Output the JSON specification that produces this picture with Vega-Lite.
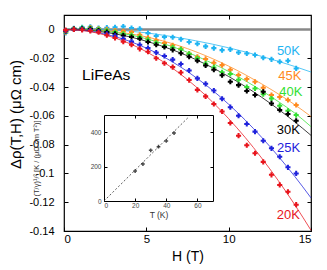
{
"$schema":"https://vega.github.io/schema/vega-lite/v6.json",
"width":247,"height":216,
"autosize":{"type":"none"},
"padding":{"left":64,"top":15,"right":16,"bottom":39},
"config":{"font":"Liberation Sans","locale":{"number":{"decimal":".","thousands":",","grouping":[3],"currency":["$",""],"minus":"-"}},"view":{"stroke":"#000","strokeWidth":1.2},"axis":{"grid":false,"labelColor":"#000","titleColor":"#000","titleFontWeight":"normal","tickColor":"#000","domainColor":"#000","labelOverlap":false},"scale":{"nice":false,"zero":false}},
"datasets":{
"pts":[
{"s":"50K","H":0.1,"v":-0.0025},{"s":"50K","H":0.6,"v":0.0008},{"s":"50K","H":1.1,"v":0.0015},{"s":"50K","H":1.6,"v":0.0018},{"s":"50K","H":2.1,"v":0.001},{"s":"50K","H":2.6,"v":0.0012},{"s":"50K","H":3.1,"v":0.0015},{"s":"50K","H":3.6,"v":0.002},{"s":"50K","H":4.1,"v":0.001},{"s":"50K","H":4.6,"v":0.0004},{"s":"50K","H":5.1,"v":-0.0026},{"s":"50K","H":5.6,"v":-0.0046},{"s":"50K","H":6.1,"v":-0.0053},{"s":"50K","H":6.6,"v":-0.0055},{"s":"50K","H":7.1,"v":-0.0068},{"s":"50K","H":7.6,"v":-0.0088},{"s":"50K","H":8.1,"v":-0.01},{"s":"50K","H":8.6,"v":-0.0118},{"s":"50K","H":9.1,"v":-0.013},{"s":"50K","H":9.6,"v":-0.0144},{"s":"50K","H":10.1,"v":-0.0139},{"s":"50K","H":10.6,"v":-0.016},{"s":"50K","H":11.1,"v":-0.0167},{"s":"50K","H":11.6,"v":-0.0178},{"s":"50K","H":12.1,"v":-0.0197},{"s":"50K","H":12.6,"v":-0.0208},{"s":"50K","H":13.1,"v":-0.0225},{"s":"50K","H":13.6,"v":-0.0218},{"s":"50K","H":14.1,"v":-0.0271},
{"s":"45K","H":0.1,"v":-0.002},{"s":"45K","H":0.6,"v":0.0005},{"s":"45K","H":1.1,"v":0.0008},{"s":"45K","H":1.6,"v":0.0012},{"s":"45K","H":2.1,"v":0.0005},{"s":"45K","H":2.6,"v":0.0},{"s":"45K","H":3.1,"v":-0.0008},{"s":"45K","H":3.6,"v":-0.0012},{"s":"45K","H":4.1,"v":-0.0018},{"s":"45K","H":4.6,"v":-0.0037},{"s":"45K","H":5.1,"v":-0.0058},{"s":"45K","H":5.6,"v":-0.0075},{"s":"45K","H":6.1,"v":-0.0095},{"s":"45K","H":6.6,"v":-0.011},{"s":"45K","H":7.1,"v":-0.0135},{"s":"45K","H":7.6,"v":-0.017},{"s":"45K","H":8.1,"v":-0.019},{"s":"45K","H":8.6,"v":-0.0205},{"s":"45K","H":9.1,"v":-0.0232},{"s":"45K","H":9.6,"v":-0.0248},{"s":"45K","H":10.1,"v":-0.028},{"s":"45K","H":10.6,"v":-0.0317},{"s":"45K","H":11.1,"v":-0.0345},{"s":"45K","H":11.6,"v":-0.0364},{"s":"45K","H":12.1,"v":-0.0405},{"s":"45K","H":12.6,"v":-0.0456},{"s":"45K","H":13.1,"v":-0.047},{"s":"45K","H":13.6,"v":-0.049},{"s":"45K","H":14.1,"v":-0.0525},
{"s":"40K","H":0.1,"v":-0.0015},{"s":"40K","H":0.6,"v":0.0005},{"s":"40K","H":1.1,"v":0.001},{"s":"40K","H":1.6,"v":0.0008},{"s":"40K","H":2.1,"v":0.0},{"s":"40K","H":2.6,"v":-0.0008},{"s":"40K","H":3.1,"v":-0.0018},{"s":"40K","H":3.6,"v":-0.003},{"s":"40K","H":4.1,"v":-0.004},{"s":"40K","H":4.6,"v":-0.0053},{"s":"40K","H":5.1,"v":-0.0072},{"s":"40K","H":5.6,"v":-0.0093},{"s":"40K","H":6.1,"v":-0.0118},{"s":"40K","H":6.6,"v":-0.0125},{"s":"40K","H":7.1,"v":-0.0139},{"s":"40K","H":7.6,"v":-0.017},{"s":"40K","H":8.1,"v":-0.02},{"s":"40K","H":8.6,"v":-0.0238},{"s":"40K","H":9.1,"v":-0.0264},{"s":"40K","H":9.6,"v":-0.0298},{"s":"40K","H":10.1,"v":-0.031},{"s":"40K","H":10.6,"v":-0.035},{"s":"40K","H":11.1,"v":-0.04},{"s":"40K","H":11.6,"v":-0.041},{"s":"40K","H":12.1,"v":-0.045},{"s":"40K","H":12.6,"v":-0.048},{"s":"40K","H":13.1,"v":-0.053},{"s":"40K","H":13.6,"v":-0.0565},{"s":"40K","H":14.1,"v":-0.0595},
{"s":"30K","H":0.1,"v":-0.001},{"s":"30K","H":0.6,"v":0.0003},{"s":"30K","H":1.1,"v":0.0005},{"s":"30K","H":1.6,"v":0.0003},{"s":"30K","H":2.1,"v":-0.0008},{"s":"30K","H":2.6,"v":-0.0018},{"s":"30K","H":3.1,"v":-0.003},{"s":"30K","H":3.6,"v":-0.0042},{"s":"30K","H":4.1,"v":-0.0053},{"s":"30K","H":4.6,"v":-0.0065},{"s":"30K","H":5.1,"v":-0.0088},{"s":"30K","H":5.6,"v":-0.0107},{"s":"30K","H":6.1,"v":-0.0122},{"s":"30K","H":6.6,"v":-0.0142},{"s":"30K","H":7.1,"v":-0.0165},{"s":"30K","H":7.6,"v":-0.019},{"s":"30K","H":8.1,"v":-0.0218},{"s":"30K","H":8.6,"v":-0.025},{"s":"30K","H":9.1,"v":-0.028},{"s":"30K","H":9.6,"v":-0.0318},{"s":"30K","H":10.1,"v":-0.0364},{"s":"30K","H":10.6,"v":-0.0387},{"s":"30K","H":11.1,"v":-0.0428},{"s":"30K","H":11.6,"v":-0.0456},{"s":"30K","H":12.1,"v":-0.0433},{"s":"30K","H":12.6,"v":-0.0514},{"s":"30K","H":13.1,"v":-0.056},{"s":"30K","H":13.6,"v":-0.0588},{"s":"30K","H":14.1,"v":-0.0634},
{"s":"25K","H":0.1,"v":-0.001},{"s":"25K","H":0.6,"v":0.0},{"s":"25K","H":1.1,"v":0.0},{"s":"25K","H":1.6,"v":-0.0005},{"s":"25K","H":2.1,"v":-0.0015},{"s":"25K","H":2.6,"v":-0.003},{"s":"25K","H":3.1,"v":-0.0045},{"s":"25K","H":3.6,"v":-0.0065},{"s":"25K","H":4.1,"v":-0.0085},{"s":"25K","H":4.6,"v":-0.0107},{"s":"25K","H":5.1,"v":-0.013},{"s":"25K","H":5.6,"v":-0.016},{"s":"25K","H":6.1,"v":-0.0185},{"s":"25K","H":6.6,"v":-0.021},{"s":"25K","H":7.1,"v":-0.024},{"s":"25K","H":7.6,"v":-0.0285},{"s":"25K","H":8.1,"v":-0.034},{"s":"25K","H":8.6,"v":-0.0378},{"s":"25K","H":9.1,"v":-0.0425},{"s":"25K","H":9.6,"v":-0.0482},{"s":"25K","H":10.1,"v":-0.054},{"s":"25K","H":10.6,"v":-0.06},{"s":"25K","H":11.1,"v":-0.0657},{"s":"25K","H":11.6,"v":-0.071},{"s":"25K","H":12.1,"v":-0.0773},{"s":"25K","H":12.6,"v":-0.0826},{"s":"25K","H":13.1,"v":-0.0884},{"s":"25K","H":13.6,"v":-0.0958},{"s":"25K","H":14.1,"v":-0.1},
{"s":"20K","H":0.1,"v":-0.0005},{"s":"20K","H":0.6,"v":0.0},{"s":"20K","H":1.1,"v":-0.0003},{"s":"20K","H":1.6,"v":-0.001},{"s":"20K","H":2.1,"v":-0.002},{"s":"20K","H":2.6,"v":-0.004},{"s":"20K","H":3.1,"v":-0.006},{"s":"20K","H":3.6,"v":-0.0085},{"s":"20K","H":4.1,"v":-0.0107},{"s":"20K","H":4.6,"v":-0.0135},{"s":"20K","H":5.1,"v":-0.0155},{"s":"20K","H":5.6,"v":-0.02},{"s":"20K","H":6.1,"v":-0.0235},{"s":"20K","H":6.6,"v":-0.0262},{"s":"20K","H":7.1,"v":-0.03},{"s":"20K","H":7.6,"v":-0.0352},{"s":"20K","H":8.1,"v":-0.042},{"s":"20K","H":8.6,"v":-0.0465},{"s":"20K","H":9.1,"v":-0.0518},{"s":"20K","H":9.6,"v":-0.057},{"s":"20K","H":10.1,"v":-0.065},{"s":"20K","H":10.6,"v":-0.0738},{"s":"20K","H":11.1,"v":-0.0805},{"s":"20K","H":11.6,"v":-0.086},{"s":"20K","H":12.1,"v":-0.092},{"s":"20K","H":12.6,"v":-0.101},{"s":"20K","H":13.1,"v":-0.108},{"s":"20K","H":13.6,"v":-0.1127},{"s":"20K","H":14.1,"v":-0.1217}
],
"fit":[
{"s":"50K","H":0,"v":0},{"s":"50K","H":1,"v":0.0003},{"s":"50K","H":2,"v":0.0003},{"s":"50K","H":3,"v":-0.0003},{"s":"50K","H":4,"v":-0.0012},{"s":"50K","H":5,"v":-0.0024},{"s":"50K","H":6,"v":-0.004},{"s":"50K","H":7,"v":-0.0058},{"s":"50K","H":8,"v":-0.0079},{"s":"50K","H":9,"v":-0.0102},{"s":"50K","H":10,"v":-0.0128},{"s":"50K","H":11,"v":-0.0156},{"s":"50K","H":12,"v":-0.0187},{"s":"50K","H":13,"v":-0.0221},{"s":"50K","H":14,"v":-0.0257},{"s":"50K","H":15,"v":-0.0296},
{"s":"45K","H":0,"v":0},{"s":"45K","H":1,"v":0},{"s":"45K","H":2,"v":-0.0005},{"s":"45K","H":3,"v":-0.0015},{"s":"45K","H":4,"v":-0.003},{"s":"45K","H":5,"v":-0.0052},{"s":"45K","H":6,"v":-0.008},{"s":"45K","H":7,"v":-0.0114},{"s":"45K","H":8,"v":-0.0155},{"s":"45K","H":9,"v":-0.0202},{"s":"45K","H":10,"v":-0.0255},{"s":"45K","H":11,"v":-0.0314},{"s":"45K","H":12,"v":-0.0378},{"s":"45K","H":13,"v":-0.0447},{"s":"45K","H":14,"v":-0.0522},{"s":"45K","H":15,"v":-0.0605},
{"s":"40K","H":0,"v":0},{"s":"40K","H":1,"v":0},{"s":"40K","H":2,"v":-0.0008},{"s":"40K","H":3,"v":-0.002},{"s":"40K","H":4,"v":-0.0038},{"s":"40K","H":5,"v":-0.0065},{"s":"40K","H":6,"v":-0.0098},{"s":"40K","H":7,"v":-0.0137},{"s":"40K","H":8,"v":-0.0183},{"s":"40K","H":9,"v":-0.0235},{"s":"40K","H":10,"v":-0.0292},{"s":"40K","H":11,"v":-0.0356},{"s":"40K","H":12,"v":-0.0425},{"s":"40K","H":13,"v":-0.05},{"s":"40K","H":14,"v":-0.058},{"s":"40K","H":15,"v":-0.0675},
{"s":"30K","H":0,"v":0},{"s":"30K","H":1,"v":-0.0003},{"s":"30K","H":2,"v":-0.0013},{"s":"30K","H":3,"v":-0.0029},{"s":"30K","H":4,"v":-0.0052},{"s":"30K","H":5,"v":-0.0082},{"s":"30K","H":6,"v":-0.0118},{"s":"30K","H":7,"v":-0.016},{"s":"30K","H":8,"v":-0.0209},{"s":"30K","H":9,"v":-0.0265},{"s":"30K","H":10,"v":-0.0327},{"s":"30K","H":11,"v":-0.0396},{"s":"30K","H":12,"v":-0.0471},{"s":"30K","H":13,"v":-0.0553},{"s":"30K","H":14,"v":-0.0641},{"s":"30K","H":15,"v":-0.0736},
{"s":"25K","H":0,"v":0},{"s":"25K","H":1,"v":-0.0005},{"s":"25K","H":2,"v":-0.0021},{"s":"25K","H":3,"v":-0.0047},{"s":"25K","H":4,"v":-0.0083},{"s":"25K","H":5,"v":-0.013},{"s":"25K","H":6,"v":-0.0187},{"s":"25K","H":7,"v":-0.0255},{"s":"25K","H":8,"v":-0.0333},{"s":"25K","H":9,"v":-0.0421},{"s":"25K","H":10,"v":-0.052},{"s":"25K","H":11,"v":-0.0629},{"s":"25K","H":12,"v":-0.0749},{"s":"25K","H":13,"v":-0.0879},{"s":"25K","H":14,"v":-0.1019},{"s":"25K","H":15,"v":-0.117},
{"s":"20K","H":0,"v":0},{"s":"20K","H":1,"v":-0.0006},{"s":"20K","H":2,"v":-0.0025},{"s":"20K","H":3,"v":-0.0056},{"s":"20K","H":4,"v":-0.0099},{"s":"20K","H":5,"v":-0.0155},{"s":"20K","H":6,"v":-0.0223},{"s":"20K","H":7,"v":-0.0304},{"s":"20K","H":8,"v":-0.0397},{"s":"20K","H":9,"v":-0.0502},{"s":"20K","H":10,"v":-0.062},{"s":"20K","H":11,"v":-0.075},{"s":"20K","H":12,"v":-0.0893},{"s":"20K","H":13,"v":-0.1048},{"s":"20K","H":14,"v":-0.1215},{"s":"20K","H":15,"v":-0.1395}
],
"lbl":[
{"s":"50K","H":13.63,"v":-0.0152,"t":"50K"},{"s":"45K","H":13.72,"v":-0.0323,"t":"45K"},{"s":"40K","H":13.78,"v":-0.0433,"t":"40K"},{"s":"30K","H":13.62,"v":-0.0699,"t":"30K"},{"s":"25K","H":13.64,"v":-0.0824,"t":"25K"},{"s":"20K","H":13.62,"v":-0.1289,"t":"20K"}
],
"ann":[{"H":1.1,"v":-0.0317,"t":"LiFeAs"}],
"zero":[{"v":0}],
"ins":[{"T":20,"v":174},{"T":25,"v":215},{"T":30,"v":295},{"T":35,"v":316},{"T":40,"v":349},{"T":45,"v":395}],
"insfit":[{"T":0,"v":0},{"T":54,"v":485}]
},
"layer":[
{
"layer":[
{"data":{"name":"zero"},"mark":{"type":"rule","color":"#888888","strokeWidth":2.5},
"encoding":{"y":{"field":"v","type":"quantitative","scale":{"domain":[-0.14,0.01],"nice":false,"zero":false},"axis":null}}},
{"data":{"name":"fit"},"mark":{"type":"line","strokeWidth":1,"opacity":0.75,"interpolate":"monotone"},
"encoding":{
"x":{"field":"H","type":"quantitative","scale":{"domain":[0,15],"nice":false,"zero":false},"axis":null},
"y":{"field":"v","type":"quantitative","axis":null},
"color":{"field":"s","type":"nominal","scale":{"domain":["50K","45K","40K","30K","25K","20K"],"range":["#1eb4f2","#ff8a1e","#33e033","#000000","#1f22dc","#e8141c"]},"legend":null},
"detail":{"field":"s"}}},
{"data":{"name":"pts"},"mark":{"type":"point","shape":"cross","filled":true,"size":26,"opacity":1},
"encoding":{"x":{"field":"H","type":"quantitative","axis":null},"y":{"field":"v","type":"quantitative","axis":null},"color":{"field":"s","type":"nominal","legend":null}}},
{"data":{"name":"lbl"},"mark":{"type":"text","fontSize":13,"align":"center","baseline":"middle"},
"encoding":{"x":{"field":"H","type":"quantitative","axis":null},"y":{"field":"v","type":"quantitative","axis":null},"text":{"field":"t"},"color":{"field":"s","type":"nominal","legend":null}}},
{"data":{"name":"ann"},"mark":{"type":"text","fontSize":15.5,"align":"left","baseline":"middle","color":"#000"},
"encoding":{"x":{"field":"H","type":"quantitative","axis":null},"y":{"field":"v","type":"quantitative","axis":null},"text":{"field":"t"}}}
]
},
{"data":{"name":"lbl"},"mark":{"type":"point","opacity":0},
"encoding":{
"x":{"field":"H","type":"quantitative","scale":{"domain":[0,15],"nice":false,"zero":false},"title":"H (T)","axis":{"orient":"bottom","values":[0,5,10,15],"format":"d","labelOverlap":false,"tickSize":-4,"labelPadding":6,"labelFontSize":11.5,"domain":false,"titleFontSize":14,"titleY":18}},
"y":{"field":"v","type":"quantitative","scale":{"domain":[-0.14,0.01],"nice":false,"zero":false},"title":"Δρ(T,H) (μΩ cm)","axis":{"orient":"left","values":[0,-0.02,-0.04,-0.06,-0.08,-0.1,-0.12,-0.14],"format":".2~f","labelOverlap":false,"labelSeparation":0,"tickSize":-4,"labelPadding":14,"labelFontSize":11,"domain":false,"titleFontSize":15,"titleX":-41,"titleY":99}}}},
{"data":{"name":"lbl"},"mark":{"type":"point","opacity":0},
"encoding":{
"x":{"field":"H","type":"quantitative","scale":{"domain":[0,15],"nice":false,"zero":false},"axis":{"orient":"top","values":[5,10],"labels":false,"tickSize":-4,"domain":false,"title":null}},
"y":{"field":"v","type":"quantitative","scale":{"domain":[-0.14,0.01],"nice":false,"zero":false},"axis":{"orient":"right","values":[-0.02,-0.04,-0.06,-0.08,-0.1,-0.12],"labels":false,"tickSize":-4,"domain":false,"title":null}}}},
{
"layer":[
{"data":{"name":"insfit"},"mark":{"type":"line","strokeDash":[2,2],"color":"#333333","strokeWidth":0.8},
"encoding":{
"x":{"field":"T","type":"quantitative","scale":{"domain":[0,70],"range":[40,149],"nice":false},"title":"T (K)","axis":{"orient":"bottom","offset":-30,"values":[0,20,40,60],"labelOverlap":false,"tickSize":-3,"labelPadding":4,"labelFontSize":6.5,"labelColor":"#444","domain":true,"domainWidth":1,"titleFontSize":8.5,"titleColor":"#333","titleY":9}},
"y":{"field":"v","type":"quantitative","scale":{"domain":[0,500],"range":[186,100],"nice":false},"title":"(T/γ)¹/² [K / (μΩ cm T²)]","axis":{"orient":"left","offset":-40,"values":[0,200,400],"labelOverlap":false,"tickSize":-3,"labelPadding":6,"labelFontSize":6.5,"labelColor":"#444","domain":true,"domainWidth":1,"titleFontSize":7.5,"titleColor":"#333","titleX":-64}}}},
{"data":{"name":"ins"},"mark":{"type":"point","shape":"cross","filled":true,"size":14,"color":"#000"},
"encoding":{"x":{"field":"T","type":"quantitative","title":"T (K)"},"y":{"field":"v","type":"quantitative","title":"(T/γ)¹/² [K / (μΩ cm T²)]"}}}
]
},
{"data":{"name":"ins"},"mark":{"type":"point","opacity":0},
"encoding":{
"x":{"field":"T","type":"quantitative","scale":{"domain":[0,70],"range":[40,149],"nice":false},"axis":{"orient":"top","offset":-100,"values":[20,40,60],"labels":false,"tickSize":-3,"domain":true,"domainWidth":1,"title":null}},
"y":{"field":"v","type":"quantitative","scale":{"domain":[0,500],"range":[186,100],"nice":false},"axis":{"orient":"right","offset":-98,"values":[200,400],"labels":false,"tickSize":-3,"domain":true,"domainWidth":1,"title":null}}}}
],
"resolve":{"scale":{"x":"independent","y":"independent"},"axis":{"x":"independent","y":"independent"}}
}
